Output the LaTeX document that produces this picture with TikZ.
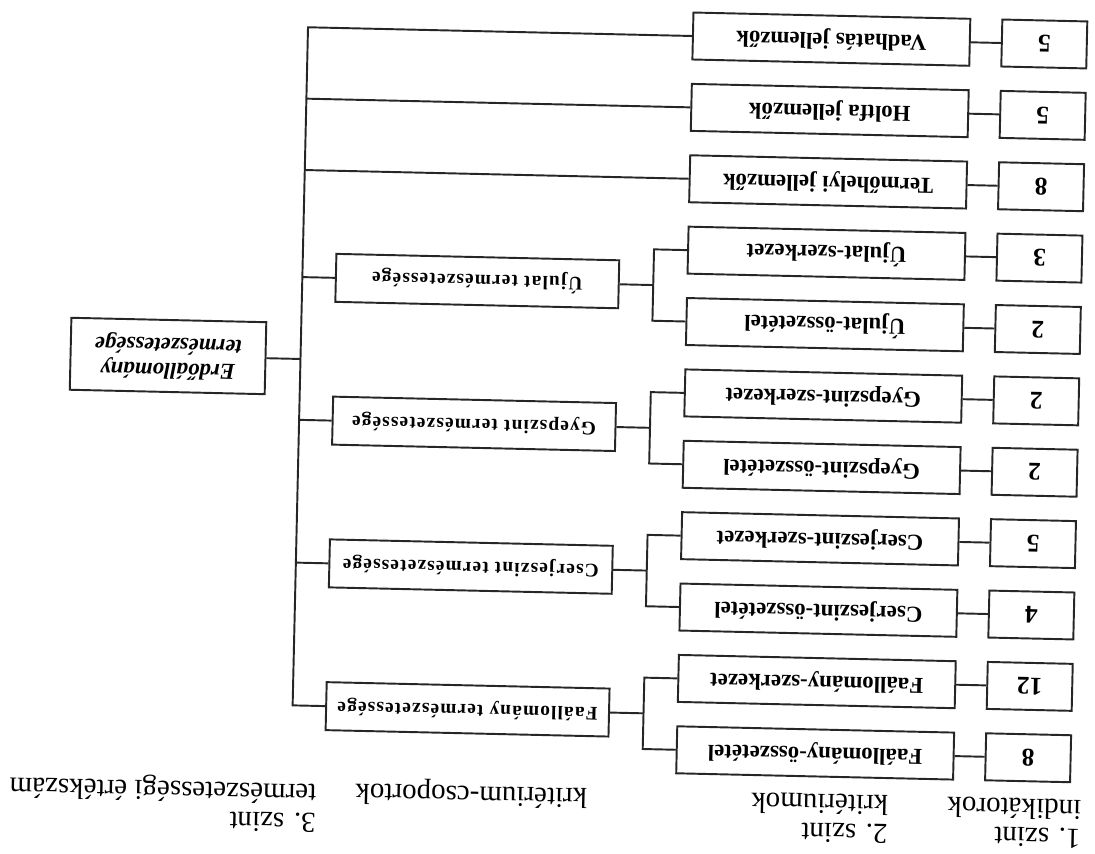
\documentclass[tikz,border=0pt]{standalone}
\usepackage{fontspec}
\usepackage{graphicx}
\setmainfont{Liberation Serif}
\newfontfamily\widefont[LetterSpace=6]{Liberation Serif}
\newcommand\updown[1]{\rotatebox{180}{#1}}
\tikzset{
  ln/.style={line width=1.1pt, draw=black!85},
  boxbase/.style={draw=black!85, line width=1.1pt, inner sep=0pt, transform shape, fill=white},
  crit/.style={boxbase, minimum width=5.54cm, minimum height=0.94cm, font=\fontsize{13}{15}\selectfont\bfseries},
  numbox/.style={boxbase, minimum width=1.7cm, minimum height=0.94cm, font=\fontsize{14.5}{16}\selectfont\bfseries},
  grp/.style={boxbase, minimum width=5.66cm, minimum height=0.96cm, font=\fontsize{11}{13}\selectfont\widefont\bfseries},
  rootbox/.style={boxbase, minimum width=3.9cm, minimum height=1.44cm, font=\fontsize{13}{14.2}\selectfont\bfseries\itshape},
  lbl/.style={inner sep=0pt, anchor=base east, transform shape, font=\fontsize{16.5}{19}\selectfont}
}
\begin{document}
\begin{tikzpicture}
\begin{scope}[x=0.02cm, y=-0.02cm]
\fill[white] (0,0) rectangle (1095,854);
\useasboundingbox (0,0) rectangle (1095,854);
\begin{scope}[rotate around={-1.3:(547.5,427)}]
% root
\node[rootbox] (root) at (166.5,364.6) {\updown{\begin{tabular}{@{}c@{}}Erdőállomány\\természetessége\end{tabular}}};
% level 3 groups
\node[grp] (U) at (474,282.7) {\updown{Újulat természetessége}};
\node[grp] (G) at (474,425.5) {\updown{Gyepszint természetessége}};
\node[grp] (C) at (474,568.3) {\updown{Cserjeszint természetessége}};
\node[grp] (F) at (474,711.1) {\updown{Faállomány természetessége}};
% level 2 criteria
\node[crit] (v)  at (822.5,32.8)  {\updown{Vadhatás jellemzők}};
\node[crit] (h)  at (822.5,104.2) {\updown{Holtfa jellemzők}};
\node[crit] (t)  at (822.5,175.6) {\updown{Termőhelyi jellemzők}};
\node[crit] (us) at (822.5,247)   {\updown{Újulat-szerkezet}};
\node[crit] (uo) at (822.5,318.4) {\updown{Újulat-összetétel}};
\node[crit] (gs) at (822.5,389.8) {\updown{Gyepszint-szerkezet}};
\node[crit] (go) at (822.5,461.2) {\updown{Gyepszint-összetétel}};
\node[crit] (cs) at (822.5,532.6) {\updown{Cserjeszint-szerkezet}};
\node[crit] (co) at (822.5,604)   {\updown{Cserjeszint-összetétel}};
\node[crit] (fs) at (822.5,675.4) {\updown{Faállomány-szerkezet}};
\node[crit] (fo) at (822.5,746.8) {\updown{Faállomány-összetétel}};
% level 1 numbers
\node[numbox] (nv)  at (1035.5,32.8)  {\updown{5}};
\node[numbox] (nh)  at (1035.5,104.2) {\updown{5}};
\node[numbox] (nt)  at (1035.5,175.6) {\updown{8}};
\node[numbox] (nus) at (1035.5,247)   {\updown{3}};
\node[numbox] (nuo) at (1035.5,318.4) {\updown{2}};
\node[numbox] (ngs) at (1035.5,389.8) {\updown{2}};
\node[numbox] (ngo) at (1035.5,461.2) {\updown{2}};
\node[numbox] (ncs) at (1035.5,532.6) {\updown{5}};
\node[numbox] (nco) at (1035.5,604)   {\updown{4}};
\node[numbox] (nfs) at (1035.5,675.4) {\updown{12}};
\node[numbox] (nfo) at (1035.5,746.8) {\updown{8}};
% junction coordinates
\coordinate (T1) at (299,32.8);
\coordinate (T2) at (299,104.2);
\coordinate (T3) at (299,175.6);
\coordinate (TU) at (299,282.7);
\coordinate (TR) at (299,364.6);
\coordinate (TG) at (299,425.5);
\coordinate (TC) at (299,568.3);
\coordinate (TF) at (299,711.1);
\coordinate (BUt) at (650,247);   \coordinate (BUm) at (650,282.7); \coordinate (BUb) at (650,318.4);
\coordinate (BGt) at (650,389.8); \coordinate (BGm) at (650,425.5); \coordinate (BGb) at (650,461.2);
\coordinate (BCt) at (650,532.6); \coordinate (BCm) at (650,568.3); \coordinate (BCb) at (650,604);
\coordinate (BFt) at (650,675.4); \coordinate (BFm) at (650,711.1); \coordinate (BFb) at (650,746.8);
% trunk
\draw[ln] (v.west) -- (T1) -- (TF) -- (F.west);
\draw[ln] (T2) -- (h.west);
\draw[ln] (T3) -- (t.west);
\draw[ln] (TU) -- (U.west);
\draw[ln] (TG) -- (G.west);
\draw[ln] (TC) -- (C.west);
\draw[ln] (root.east) -- (TR);
% branches
\draw[ln] (U.east) -- (BUm);
\draw[ln] (us.west) -- (BUt) -- (BUb) -- (uo.west);
\draw[ln] (G.east) -- (BGm);
\draw[ln] (gs.west) -- (BGt) -- (BGb) -- (go.west);
\draw[ln] (C.east) -- (BCm);
\draw[ln] (cs.west) -- (BCt) -- (BCb) -- (co.west);
\draw[ln] (F.east) -- (BFm);
\draw[ln] (fs.west) -- (BFt) -- (BFb) -- (fo.west);
% criteria to numbers
\foreach \a in {v,h,t,us,uo,gs,go,cs,co,fs,fo}{
  \draw[ln] (\a.east) -- (n\a.west);
}
% bottom labels
\node[lbl] (l1a) at (1090,817) {\updown{1. szint}};
\node[lbl] (l1b) at (1090,788) {\updown{indikátorok}};
\node[lbl] (l2a) at (897,817) {\updown{2. szint}};
\node[lbl] (l2b) at (897,788) {\updown{kritériumok}};
\node[lbl] (l3) at (596,788) {\updown{kritérium-csoportok}};
\node[lbl] (l4a) at (325,819) {\updown{3. szint}};
\node[lbl] (l4b) at (325,790) {\updown{természetességi értékszám}};
\end{scope}
\end{scope}
\end{tikzpicture}
\end{document}
